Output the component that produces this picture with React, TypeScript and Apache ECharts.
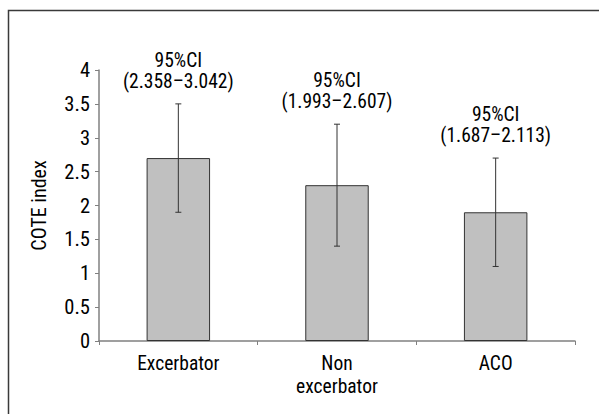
import React, { useEffect, useRef } from "react";
import * as echarts from "echarts";

const categories = ["Excerbator", "Non\nexcerbator", "ACO"];
const means = [2.7, 2.3, 1.9];
const errLow = [1.9, 1.4, 1.1];
const errHigh = [3.5, 3.2, 2.7];
const ciLabels = ["95%CI\n(2.358–3.042)", "95%CI\n(1.993–2.607)", "95%CI\n(1.687–2.113)"];
const yTicks = [0, 0.5, 1, 1.5, 2, 2.5, 3, 3.5, 4];

const FONT = "'Liberation Sans Narrow', 'Arial Narrow', 'Roboto Condensed', sans-serif";

export default function App() {
  const ref = useRef<HTMLDivElement>(null);
  useEffect(() => {
    if (!ref.current) return;
    const chart = echarts.init(ref.current, undefined, { renderer: "svg" });
    chart.setOption({
      animation: false,
      backgroundColor: "#ffffff",
      textStyle: { fontFamily: FONT },
      graphic: [
        {
          type: "rect",
          shape: { x: 8.5, y: 10.5, width: 640, height: 460 },
          style: { fill: "none", stroke: "#3a3a3a", lineWidth: 1.5 },
          silent: true,
        },
      ],
      grid: { left: 99, right: 24, top: 70, bottom: 73 },
      xAxis: {
        type: "category",
        data: categories,
        axisLine: { lineStyle: { color: "#808080", width: 1.5 } },
        axisTick: { show: true, length: 4, lineStyle: { color: "#808080" } },
        axisLabel: {
          fontFamily: FONT,
          fontSize: 19.5,
          color: "#000",
          margin: 11,
          lineHeight: 23,
        },
      },
      yAxis: {
        type: "value",
        min: 0,
        max: yTicks[yTicks.length - 1],
        interval: 0.5,
        name: "COTE index",
        nameLocation: "middle",
        nameGap: 50,
        nameTextStyle: { fontFamily: FONT, fontSize: 20, color: "#000" },
        axisLine: { show: true, lineStyle: { color: "#808080", width: 1.5 } },
        axisTick: { show: true, length: 4, lineStyle: { color: "#808080" } },
        splitLine: { show: false },
        axisLabel: { fontFamily: FONT, fontSize: 20.5, color: "#000", margin: 9 },
      },
      series: [
        {
          type: "bar",
          data: means,
          barWidth: "40%",
          itemStyle: { color: "#c0c0c0", borderColor: "#333333", borderWidth: 1 },
          z: 2,
        },
        {
          type: "custom",
          z: 5,
          data: categories.map((_, i) => [i, errLow[i], errHigh[i]]),
          renderItem: (params: any, api: any) => {
            const i = api.value(0);
            const lo = api.coord([i, api.value(1)]);
            const hi = api.coord([i, api.value(2)]);
            const cap = 3;
            const style = { stroke: "#333333", lineWidth: 1 };
            return {
              type: "group",
              children: [
                { type: "line", shape: { x1: hi[0], y1: hi[1], x2: lo[0], y2: lo[1] }, style },
                { type: "line", shape: { x1: hi[0] - cap, y1: hi[1], x2: hi[0] + cap, y2: hi[1] }, style },
                { type: "line", shape: { x1: lo[0] - cap, y1: lo[1], x2: lo[0] + cap, y2: lo[1] }, style },
                {
                  type: "text",
                  style: {
                    x: hi[0],
                    y: hi[1] - 12,
                    text: ciLabels[params.dataIndex],
                    align: "center",
                    verticalAlign: "bottom",
                    fontFamily: FONT,
                    fontSize: 19.5,
                    lineHeight: 21,
                    fill: "#000",
                  },
                },
              ],
            };
          },
        },
      ],
    });
    return () => chart.dispose();
  }, []);
  return (
    <div
      ref={ref}
      style={{ position: "fixed", left: 0, top: 0, width: 599, height: 414, background: "#fff" }}
    />
  );
}
